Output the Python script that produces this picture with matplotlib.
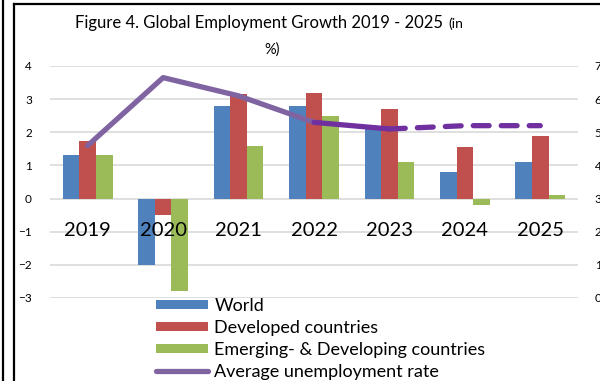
import matplotlib.pyplot as plt
import numpy as np
from matplotlib.lines import Line2D
from matplotlib.patches import Patch

plt.rcParams['font.family'] = ['Lato', 'DejaVu Sans']

years = ['2019', '2020', '2021', '2022', '2023', '2024', '2025']
world = [1.3, -2.0, 2.8, 2.8, 2.2, 0.8, 1.1]
developed = [1.75, -0.5, 3.15, 3.2, 2.7, 1.55, 1.9]
emerging = [1.3, -2.8, 1.6, 2.5, 1.1, -0.2, 0.1]
unemployment = [4.6, 6.65, 6.1, 5.3, 5.1, 5.2, 5.2]

c_world = '#4F81BD'
c_dev = '#C0504D'
c_emg = '#9BBB59'
c_line = '#8064A2'
c_proj = '#7030A0'

fig = plt.figure(figsize=(6, 3.81), dpi=100)
ax = fig.add_axes([50/600, 1-298/381, 528/600, 232/381])

x = np.arange(len(years))
w = 0.22
ax.bar(x - w, world, w, color=c_world, zorder=2)
ax.bar(x, developed, w, color=c_dev, zorder=2)
ax.bar(x + w, emerging, w, color=c_emg, zorder=2)

ax.set_xlim(-0.5, len(years) - 0.5)
ax.set_ylim(-3, 4)
ax.set_yticks(range(-3, 5))
ax.yaxis.grid(True, color='#d9d9d9', linewidth=1.2, zorder=0)
ax.set_axisbelow(True)
ax.set_xticks([])
ax.tick_params(axis='y', length=0, pad=13, labelsize=8.5)
for s in ax.spines.values():
    s.set_visible(False)

# year labels sit inside the plot, just under the zero line
for xi, yr in zip(x, years):
    ax.text(xi, -0.95, yr, ha='center', va='center', fontsize=14.5, zorder=5)

# unemployment rate on the secondary axis
ax2 = ax.twinx()
ax2.set_ylim(0, 7)
ax2.set_yticks(range(0, 8))
ax2.tick_params(axis='y', length=0, pad=12, labelsize=8.5)
for s in ax2.spines.values():
    s.set_visible(False)
ax2.plot(x[:4], unemployment[:4], color=c_line, linewidth=3.8,
         solid_capstyle='round', solid_joinstyle='round', zorder=4)
ax2.plot(x[3:5], unemployment[3:5], color=c_proj, linewidth=3.8,
         solid_capstyle='round', zorder=4)
ax2.plot(x[4:], unemployment[4:], color=c_proj, linewidth=3.8,
         linestyle=(0, (3.0, 2.3)), dash_capstyle='round', zorder=4)

# title: main part, then the smaller "(in" right after it
title = fig.text(75/600, 1-28/381, 'Figure 4. Global Employment Growth 2019 - 2025',
                 fontsize=12, ha='left', va='baseline')
fig.add_artist(plt.Annotation('(in', xy=(1, 0), xycoords=title,
                              xytext=(4, 2.5), textcoords='offset points',
                              fontsize=10, ha='left', va='baseline'))
fig.text(272/600, 1-54/381, '%)', fontsize=10.5, ha='center', va='baseline')

handles = [
    Patch(facecolor=c_world),
    Patch(facecolor=c_dev),
    Patch(facecolor=c_emg),
    Line2D([0], [0], color=c_line, linewidth=3.8, solid_capstyle='round'),
]
labels = ['World', 'Developed countries', 'Emerging- & Developing countries',
          'Average unemployment rate']
fig.legend(handles, labels, loc='upper left', bbox_to_anchor=(156/600, 1-298/381),
           frameon=False, fontsize=13, handlelength=2.9, handleheight=0.4,
           handletextpad=0.33, labelspacing=0.33, borderpad=0, borderaxespad=0)

# frame lines around the chart area
fig.add_artist(Line2D([3/600, 3/600], [0, 1], color='black', linewidth=1.6))
fig.add_artist(Line2D([14/600, 14/600], [0, 1-4/381], color='black', linewidth=1.6))
fig.add_artist(Line2D([14/600, 1], [1-4/381, 1-4/381], color='black', linewidth=1.6))

fig.savefig('out.png', dpi=100)
